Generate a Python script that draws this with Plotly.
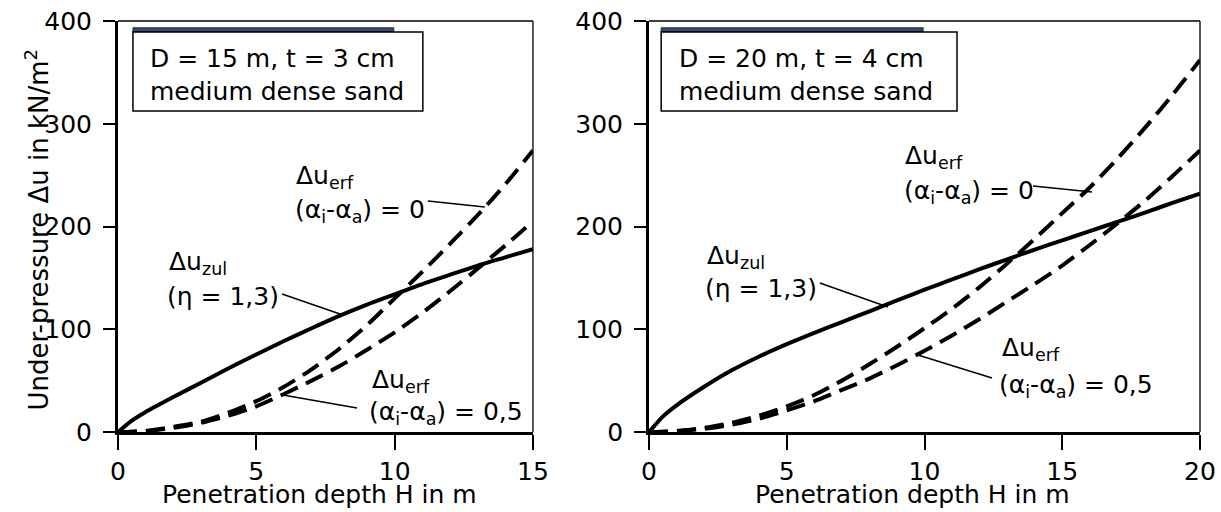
import plotly.graph_objects as go

# ---------------- data ----------------
H_left = [0, 0.5, 1, 2, 3, 4, 5, 6, 7, 8, 9, 10, 11, 12, 13, 14, 15]
zul_left = [0, 11, 19.5, 34, 48, 62, 75.5, 88.5, 101, 113, 124, 134, 144, 153, 162, 170, 178]
erf0_left = [0, 0.3, 1, 5, 10, 19, 30, 44, 61, 81, 104, 130, 156, 183, 211, 241, 274]
erf05_left = [0, 0.3, 1, 4, 9, 16, 25, 37, 50, 64, 80, 97, 116, 137, 159, 181.5, 205]

H_right = [0, 0.5, 1, 2, 3, 4, 5, 6, 7, 8, 9, 10, 11, 12, 13, 14, 15, 16, 17, 18, 19, 20]
zul_right = [0, 15, 26, 44, 60, 73.5, 85.5, 96.5, 107, 117.5, 128, 138.5, 148.5, 158.5,
             168, 177.5, 186.5, 195.5, 204.5, 213.5, 223, 232]
erf0_right = [0, 0.3, 1, 4, 9, 16, 25, 36, 50, 66, 83, 101, 120, 141, 164, 188, 213,
              238, 266, 296, 328, 362]
erf05_right = [0, 0.2, 1, 3, 7, 13, 21, 30, 41, 52, 65, 79, 94, 110, 127, 144, 162,
               182, 203, 225, 249, 274]

x_ticks_left = [0, 5, 10, 15]
x_ticks_right = [0, 5, 10, 15, 20]
y_ticks = [0, 100, 200, 300, 400]

box_left = ["D = 15 m, t = 3 cm", "medium dense sand"]
box_right = ["D = 20 m, t = 4 cm", "medium dense sand"]
x_title = "Penetration depth H in m"
y_title = "Under-pressure Δu in kN/m<sup>2</sup>"

FONT = "DejaVu Sans, Liberation Sans, sans-serif"
FS = 25
DASH = "19px,9px"

fig = go.Figure()

def add_curves(H, zul, e0, e05, xa, ya):
    for y, dash in ((e0, DASH), (e05, DASH), (zul, "solid")):
        fig.add_trace(go.Scatter(
            x=H, y=y, mode="lines", xaxis=xa, yaxis=ya,
            line=dict(color="black", width=4, dash=dash, shape="spline", smoothing=0.6),
            showlegend=False, hoverinfo="skip"))

add_curves(H_left, zul_left, erf0_left, erf05_left, "x", "y")
add_curves(H_right, zul_right, erf0_right, erf05_right, "x2", "y2")

xax = dict(showline=True, linewidth=3, linecolor="black", ticks="outside", ticklen=15,
           tickwidth=2, tickcolor="black", showgrid=False, zeroline=False,
           tickfont=dict(family=FONT, size=FS, color="black"), ticklabelstandoff=0,
           automargin=False, fixedrange=True)
yax = dict(showline=True, linewidth=3, linecolor="black", ticks="outside", ticklen=12,
           tickwidth=2, tickcolor="black", showgrid=False, zeroline=False,
           tickfont=dict(family=FONT, size=FS, color="black"), ticklabelstandoff=6,
           range=[0, 400], tickvals=y_ticks, domain=[0, 1], automargin=False,
           fixedrange=True)

fig.update_layout(
    template="none",
    width=1221, height=512,
    margin=dict(l=118, r=21, t=21, b=80, autoexpand=False),
    paper_bgcolor="white", plot_bgcolor="white",
    font=dict(family=FONT, size=FS, color="black"),
    xaxis=dict(xax, domain=[0, 0.3835], range=[0, 15], tickvals=x_ticks_left, anchor="y"),
    yaxis=dict(yax, anchor="x"),
    xaxis2=dict(xax, domain=[0.4908, 1], range=[0, 20], tickvals=x_ticks_right, anchor="y2"),
    yaxis2=dict(yax, anchor="x2"),
)

shapes = []
for xd, yd in (("x domain", "y domain"), ("x2 domain", "y2 domain")):
    shapes.append(dict(type="line", xref=xd, yref=yd, x0=0, x1=1, y0=1, y1=1,
                       line=dict(color="black", width=1.3)))
    shapes.append(dict(type="line", xref=xd, yref=yd, x0=1, x1=1, y0=0, y1=1,
                       line=dict(color="black", width=1.3)))

# info boxes (navy shadow bar + white framed box)
for xr, yr, bx0, bx1, sx1 in (("x", "y", 0.54, 11.02, 9.97), ("x2", "y2", 0.44, 11.18, 9.95)):
    shapes.append(dict(type="rect", xref=xr, yref=yr, x0=bx0, x1=sx1, y0=389.3, y1=393.4,
                       fillcolor="#3b4770", line=dict(color="#2a2f45", width=1), layer="above"))
    shapes.append(dict(type="rect", xref=xr, yref=yr, x0=bx0, x1=bx1, y0=312.4, y1=389.3,
                       fillcolor="white", line=dict(color="black", width=1.5), layer="above"))

# pointer lines
pointers = [
    ("x", "y", 5.93, 134.3, 8.13, 113.9),
    ("x", "y", 11.2, 224.8, 13.26, 219.0),
    ("x", "y", 5.96, 36.0, 8.64, 23.4),
    ("x2", "y2", 6.2, 145.0, 8.67, 121.7),
    ("x2", "y2", 13.94, 239.4, 16.08, 233.6),
    ("x2", "y2", 9.76, 75.0, 12.45, 52.6),
]
for xr, yr, x0, y0, x1, y1 in pointers:
    shapes.append(dict(type="line", xref=xr, yref=yr, x0=x0, y0=y0, x1=x1, y1=y1,
                       line=dict(color="black", width=1.5)))

fig.update_layout(shapes=shapes)

ann = []
def txt(xr, yr, x, y, s, **kw):
    d = dict(xref=xr, yref=yr, x=x, y=y, text=s, showarrow=False, xanchor="left",
             yanchor="middle", font=dict(family=FONT, size=FS, color="black"))
    d.update(kw)
    ann.append(d)

# box texts
txt("x", "y", 1.08, 363.6, box_left[0])
txt("x", "y", 1.08, 331.5, box_left[1])
txt("x2", "y2", 1.02, 363.6, box_right[0])
txt("x2", "y2", 1.02, 331.5, box_right[1])

# curve labels, left panel
txt("x", "y", 1.77, 164.5, "Δu<sub>zul</sub>")
txt("x", "y", 1.70, 131.4, "(η = 1,3)")
txt("x", "y", 6.36, 248, "Δu<sub>erf</sub>")
txt("x", "y", 6.32, 215, "(α<sub>i</sub>-α<sub>a</sub>) = 0")
txt("x", "y", 9.10, 50, "Δu<sub>erf</sub>")
txt("x", "y", 9.00, 18.5, "(α<sub>i</sub>-α<sub>a</sub>) = 0,5")

# curve labels, right panel
txt("x2", "y2", 2.03, 170, "Δu<sub>zul</sub>")
txt("x2", "y2", 1.96, 140, "(η = 1,3)")
txt("x2", "y2", 9.22, 267.6, "Δu<sub>erf</sub>")
txt("x2", "y2", 9.18, 233.5, "(α<sub>i</sub>-α<sub>a</sub>) = 0")
txt("x2", "y2", 12.74, 80.8, "Δu<sub>erf</sub>")
txt("x2", "y2", 12.63, 44.8, "(α<sub>i</sub>-α<sub>a</sub>) = 0,5")

# axis titles
ann.append(dict(xref="x domain", yref="paper", x=(320 - 118) / 415, y=-(494.5 - 432) / 411,
                text=x_title, showarrow=False, xanchor="center", yanchor="middle",
                font=dict(family=FONT, size=FS, color="black")))
ann.append(dict(xref="x2 domain", yref="paper", x=(912 - 649) / 551, y=-(494.5 - 432) / 411,
                text=x_title, showarrow=False, xanchor="center", yanchor="middle",
                font=dict(family=FONT, size=FS, color="black")))
ann.append(dict(xref="paper", yref="paper", x=(37 - 118) / 1082, y=(432 - 229.5) / 411,
                text=y_title, textangle=-90, showarrow=False, xanchor="center",
                yanchor="middle", font=dict(family=FONT, size=26, color="black")))

fig.update_layout(annotations=ann)
fig.write_html(
    "out.html",
    config={"displayModeBar": False, "staticPlot": True},
    post_script="document.body.style.margin='0';document.body.style.overflow='hidden';",
)
